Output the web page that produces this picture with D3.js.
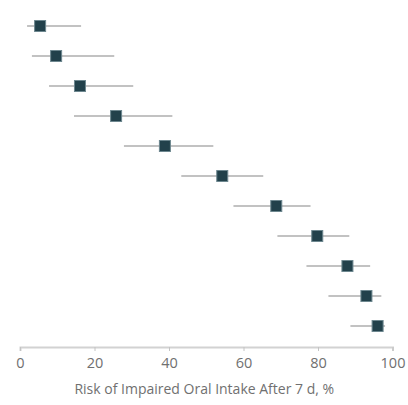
<!DOCTYPE html>
<html>
<head>
<meta charset="utf-8">
<script src="https://cdn.jsdelivr.net/npm/d3@7"></script>
<style>
  body { margin: 0; background: #fff; }
  svg { display: block; }
</style>
</head>
<body>
<div id="chart"></div>
<script>
// risk estimates with 95% CI, one per row (row labels are cut off in the source)
const rows = [1, 2, 3, 4, 5, 6, 7, 8, 9, 10, 11]
const risk = [5.4, 9.7, 16.1, 25.8, 38.9, 54.3, 68.8, 79.8, 87.9, 93.0, 96.0]
const lower = [1.9, 3.2, 7.8, 14.5, 27.9, 43.3, 57.3, 69.1, 76.9, 82.8, 88.7]
const upper = [16.4, 25.3, 30.4, 40.9, 51.9, 65.3, 78.0, 88.4, 94.0, 97.0, 98.0]
const xTicks = [0, 20, 40, 60, 80, 100]

const width = 408
const height = 405
const margin = { top: 11, right: 15, bottom: 58, left: 20 }

const svg = d3.select("#chart")
  .append("svg")
  .attr("width", width)
  .attr("height", height)

const x = d3.scaleLinear()
  .domain([0, 100])
  .range([margin.left, width - margin.right - 0.5])

const y = d3.scalePoint()
  .domain(rows)
  .range([26, 326])

// x axis
const axis = svg.append("g")
  .attr("transform", `translate(0,${height - margin.bottom})`)
  .call(d3.axisBottom(x).tickValues(xTicks).tickSize(4).tickPadding(7))

axis.select(".domain").attr("stroke", "#d2d2d2").attr("stroke-width", 2)
axis.selectAll(".tick line").attr("stroke", "#c4c4c4")
axis.selectAll(".tick text")
  .attr("fill", "#707070")
  .attr("font-family", "Open Sans, sans-serif")
  .attr("font-size", "14.5px")

svg.append("text")
  .attr("x", (x(0) + x(100)) / 2 - 2)
  .attr("y", height - 11)
  .attr("text-anchor", "middle")
  .attr("fill", "#707070")
  .attr("font-family", "Open Sans, sans-serif")
  .attr("font-size", "14px")
  .text("Risk of Impaired Oral Intake After 7 d, %")

// confidence intervals
svg.append("g")
  .selectAll("line")
  .data(rows)
  .join("line")
  .attr("x1", (d, i) => x(lower[i]))
  .attr("x2", (d, i) => x(upper[i]))
  .attr("y1", d => y(d))
  .attr("y2", d => y(d))
  .attr("stroke", "#c2c2c2")
  .attr("stroke-width", 2)

// point estimates
const s = 11
svg.append("g")
  .selectAll("rect")
  .data(rows)
  .join("rect")
  .attr("x", (d, i) => x(risk[i]) - s / 2)
  .attr("y", d => y(d) - s / 2)
  .attr("width", s)
  .attr("height", s)
  .attr("fill", "#22414b")
  .attr("stroke", "#6d878f")
  .attr("stroke-width", 1)
</script>
</body>
</html>
